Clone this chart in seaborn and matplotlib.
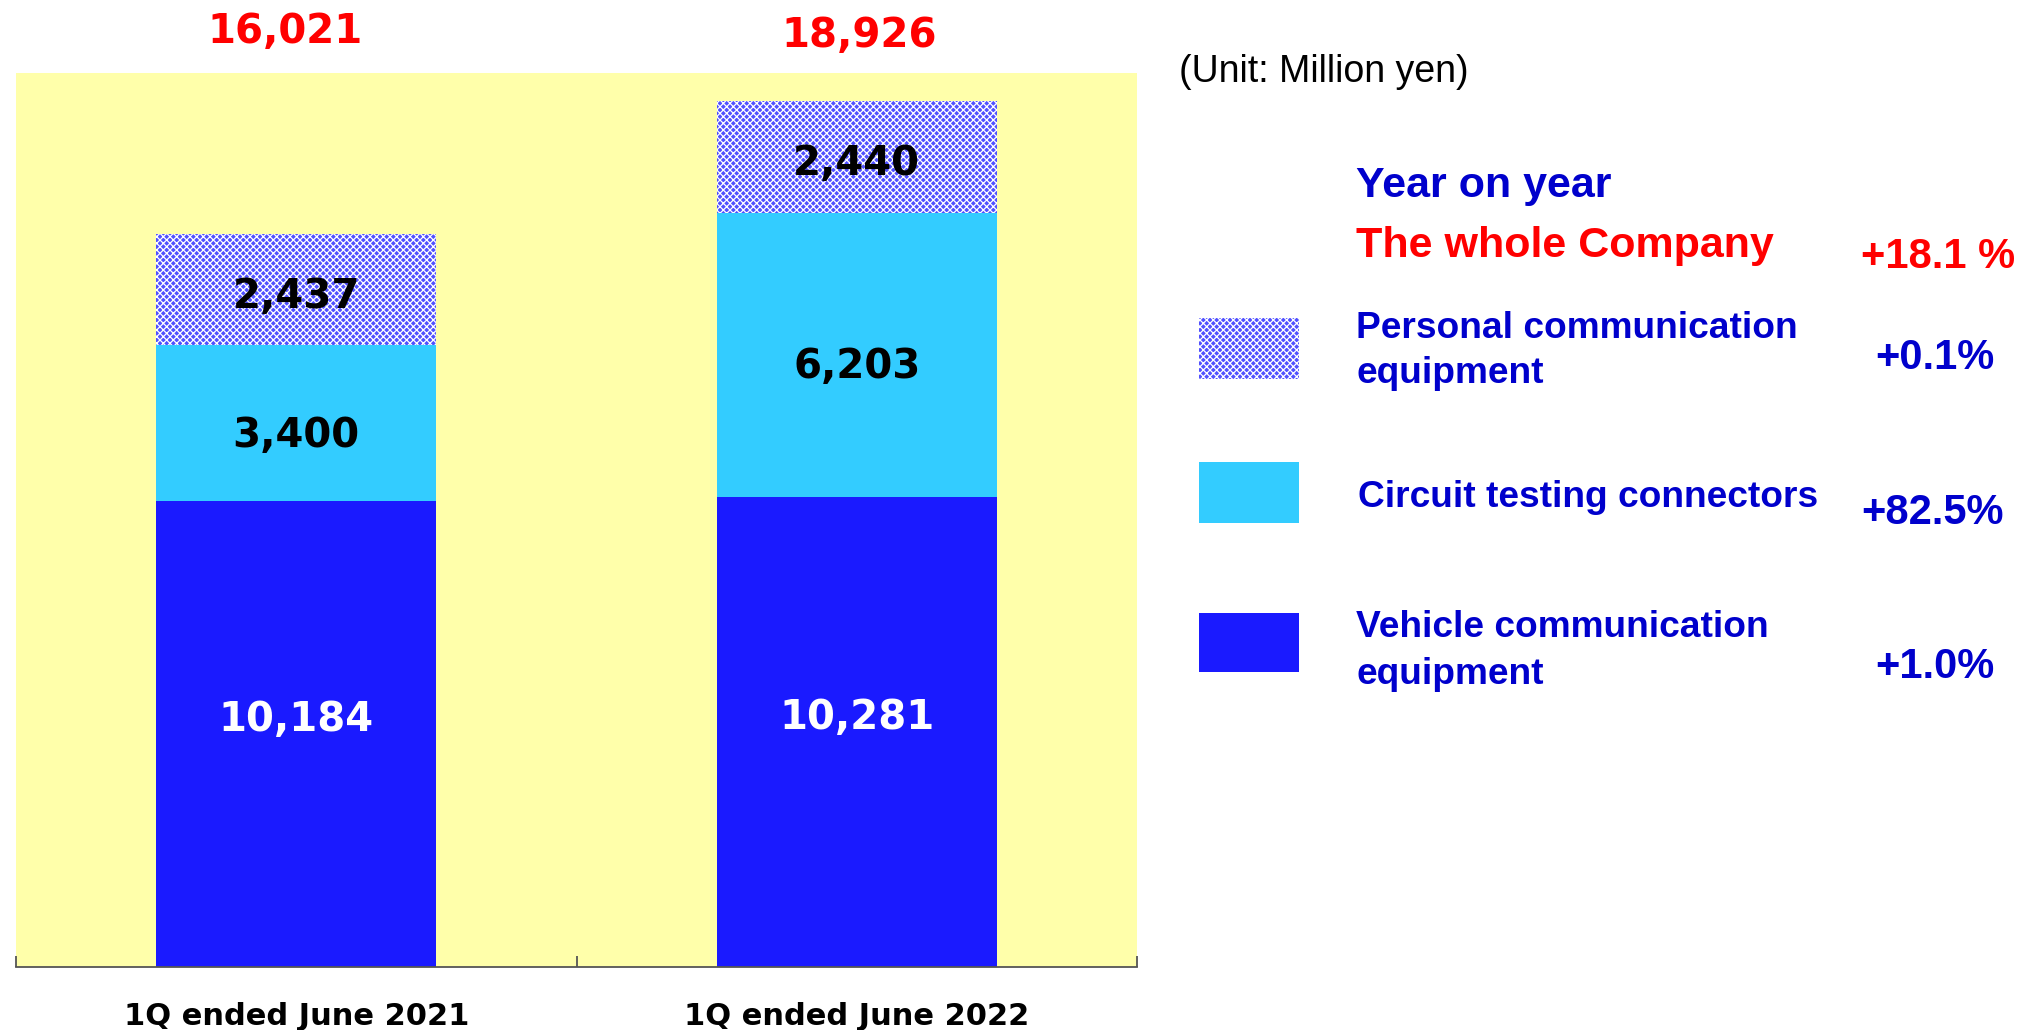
import numpy as np
import pandas as pd
import matplotlib
matplotlib.use("Agg")
import matplotlib.pyplot as plt
import seaborn as sns
from matplotlib.patches import Rectangle
from matplotlib.transforms import blended_transform_factory

# data (million yen)
periods = ["1Q ended June 2021", "1Q ended June 2022"]
vehicle = [10184, 10281]
circuit = [3400, 6203]
personal = [2437, 2440]
totals = [16021, 18926]

segment_names = ["Personal communication\nequipment",
                 "Circuit testing connectors",
                 "Vehicle communication\nequipment"]
segment_yoy = ["+0.1%", "+82.5%", "+1.0%"]
total_yoy = "+18.1 %"

BLUE = "#1A1AFF"
CYAN = "#33CCFF"
HATCH_BLUE = "#5050FF"
YELLOW = "#FFFFAA"
TXT_BLUE = "#0000CC"
RED = "#FF0000"
HATCH = "xxxxx"

sns.set_theme(style="white")
plt.rcParams["hatch.linewidth"] = 0.9
plt.rcParams["font.family"] = ["DejaVu Sans"]

W, H = 2035, 1030
fig = plt.figure(figsize=(W / 100, H / 100), dpi=100)
ax = fig.add_axes([16 / W, 1 - 967 / H, (1137 - 16) / W, (967 - 73) / H])
ax.set_facecolor(YELLOW)

df = pd.DataFrame({"period": periods, "vehicle": vehicle,
                   "circuit": circuit, "personal": personal})
df["lvl1"] = df["vehicle"]
df["lvl2"] = df["lvl1"] + df["circuit"]
df["lvl3"] = df["lvl2"] + df["personal"]

# stacked bars: draw cumulative heights, tallest first
sns.barplot(data=df, x="period", y="lvl3", color=HATCH_BLUE, saturation=1,
            width=0.5, ax=ax)
for p in list(ax.patches):
    p.set_hatch(HATCH)
    p.set_edgecolor("white")
sns.barplot(data=df, x="period", y="lvl2", color=CYAN, saturation=1,
            width=0.5, ax=ax)
sns.barplot(data=df, x="period", y="lvl1", color=BLUE, saturation=1,
            width=0.5, ax=ax)
for p in ax.patches:
    p.set_linewidth(0)

ax.set_xlim(-0.5, 1.5)
ax.set_ylim(0, 19535)
ax.set_xlabel("")
ax.set_ylabel("")
ax.set_yticks([])
for s in ["left", "top", "right"]:
    ax.spines[s].set_visible(False)
ax.spines["bottom"].set_color("#555555")
ax.spines["bottom"].set_linewidth(1.3)
ax.set_xticks([0, 1])
ax.set_xticklabels(periods, fontsize=22, fontweight="bold", color="black")
ax.tick_params(axis="x", which="major", length=0, pad=25)
ax.set_xticks([-0.5, 0.5, 1.5], minor=True)
ax.tick_params(axis="x", which="minor", direction="in", length=8,
               width=1.3, color="#555555", bottom=True)

# segment labels (label nudges in points, as placed in the original)
nudge = {"vehicle": 10, "circuit": -9, "personal": -5}
for i in range(len(periods)):
    ax.annotate(f"{vehicle[i]:,}", (i, vehicle[i] / 2),
                xytext=(0, nudge["vehicle"]), textcoords="offset points",
                ha="center", va="center", fontsize=29, fontweight="bold",
                color="white")
    ax.annotate(f"{circuit[i]:,}", (i, vehicle[i] + circuit[i] / 2),
                xytext=(0, nudge["circuit"]), textcoords="offset points",
                ha="center", va="center", fontsize=29, fontweight="bold",
                color="black")
    ax.annotate(f"{personal[i]:,}",
                (i, vehicle[i] + circuit[i] + personal[i] / 2),
                xytext=(0, nudge["personal"]), textcoords="offset points",
                ha="center", va="center", fontsize=29, fontweight="bold",
                color="black")

# totals above the plot area
trans = blended_transform_factory(ax.transData, ax.transAxes)
total_dx = [-0.02, 0.005]
total_y = [1.046, 1.041]
for i, t in enumerate(totals):
    ax.text(i + total_dx[i], total_y[i], f"{t:,}", transform=trans,
            ha="center", va="center", fontsize=29, fontweight="bold",
            color=RED, clip_on=False)

# right-hand legend
LEG = ["Liberation Sans", "DejaVu Sans"]

def ftext(x, y, s, **kw):
    fig.text(x / W, 1 - y / H, s, family=LEG, va="center", ha="left", **kw)

ftext(1179, 72, "(Unit: Million yen)", fontsize=27, color="black")
ftext(1356, 186, "Year on year", fontsize=31, fontweight="bold", color=TXT_BLUE)
ftext(1356, 246, "The whole Company", fontsize=31, fontweight="bold", color=RED)
ftext(1861, 257, total_yoy, fontsize=30, fontweight="bold", color=RED)

swatches = [(318, 379, HATCH_BLUE, HATCH), (462, 523, CYAN, None),
            (613, 672, BLUE, None)]
name_y = [351, 498, 651]
name_x = [1356, 1358, 1356]
name_ls = [1.34, 1.2, 1.48]
yoy_x = [1875, 1861, 1875]
yoy_y = [358, 513, 667]
for k, (y0, y1, col, hatch) in enumerate(swatches):
    r = Rectangle((1199 / W, 1 - y1 / H), 100 / W, (y1 - y0) / H,
                  transform=fig.transFigure, facecolor=col,
                  edgecolor="white" if hatch else col, linewidth=0,
                  hatch=hatch)
    fig.add_artist(r)
    ftext(name_x[k], name_y[k], segment_names[k], fontsize=26.7,
          fontweight="bold", color=TXT_BLUE, linespacing=name_ls[k])
    ftext(yoy_x[k], yoy_y[k], segment_yoy[k], fontsize=30,
          fontweight="bold", color=TXT_BLUE)

fig.savefig("out.png", dpi=100)
